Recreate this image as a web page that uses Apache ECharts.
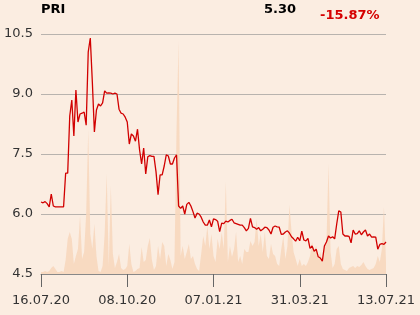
<!DOCTYPE html>
<html>
<head>
<meta charset="utf-8">
<script src="https://cdn.jsdelivr.net/npm/echarts@6/dist/echarts.min.js"></script>
<style>
html,body{margin:0;padding:0;background:#fbede1;}
#chart{width:420px;height:315px;}
</style>
</head>
<body>
<div id="chart"></div>
<script>
var symbolName = 'PRI';
var lastPrice = '5.30';
var changePct = '-15.87%';
var tickLabels = ['16.07.20','08.10.20','07.01.21','31.03.21','13.07.21'];
var yTicks = [4.5, 6.0, 7.5, 9.0, 10.5];

var price = [
6.30,6.28,6.31,6.26,6.18,6.50,6.20,6.18,6.18,6.18,
6.18,6.18,7.02,7.02,8.45,8.85,7.95,9.10,8.30,8.50,
8.52,8.55,8.22,10.05,10.40,9.30,8.05,8.60,8.75,8.70,
8.78,9.08,9.02,9.03,9.02,9.00,9.02,9.00,8.62,8.52,
8.50,8.42,8.30,7.75,8.00,7.95,7.82,8.12,7.60,7.25,
7.65,7.00,7.43,7.46,7.44,7.44,7.06,6.48,6.98,6.98,
7.20,7.48,7.45,7.25,7.25,7.40,7.48,6.20,6.14,6.20,
6.00,6.24,6.29,6.20,6.06,5.90,6.02,6.00,5.92,5.80,
5.72,5.72,5.85,5.68,5.88,5.86,5.82,5.56,5.77,5.76,
5.82,5.80,5.84,5.87,5.78,5.76,5.74,5.72,5.72,5.66,
5.58,5.64,5.89,5.68,5.66,5.62,5.66,5.58,5.62,5.67,
5.66,5.60,5.50,5.67,5.70,5.68,5.67,5.49,5.50,5.55,
5.58,5.52,5.43,5.38,5.32,5.42,5.33,5.57,5.35,5.33,
5.39,5.14,5.20,5.07,5.12,4.93,4.90,4.82,5.20,5.30,
5.45,5.40,5.43,5.38,5.75,6.08,6.05,5.50,5.45,5.45,
5.44,5.28,5.60,5.50,5.51,5.58,5.48,5.55,5.60,5.45,
5.50,5.42,5.43,5.42,5.12,5.24,5.26,5.24,5.30
];

var volume = [
2,2,3,2,3,6,8,5,2,2,
3,2,14,35,42,35,10,18,25,58,
15,22,60,144,40,25,50,18,3,2,
8,40,100,8,88,20,6,12,20,6,
4,5,8,30,10,2,3,5,6,27,
12,14,28,36,14,4,8,28,15,32,
28,8,20,14,5,12,144,233,18,28,
15,22,30,15,18,10,5,3,20,38,
28,48,25,40,18,12,35,25,42,25,
92,12,28,17,25,42,12,18,10,25,
22,22,33,28,32,55,28,40,22,42,
18,15,30,20,18,10,8,25,38,15,
28,69,42,22,15,8,15,8,10,8,
12,18,32,22,28,15,22,12,28,30,
110,22,6,10,25,28,10,5,4,3,
6,7,8,6,8,7,9,12,8,5,
4,5,6,10,18,12,25,67,12
];

var step = 42;
var cats = price.map(function(_, i){ return i; });

var chart = echarts.init(document.getElementById('chart'), null, {renderer:'canvas'});
var font = 'DejaVu Sans';
chart.setOption({
  backgroundColor: '#fbede1',
  animation: false,
  textStyle: {fontFamily: font},
  title: [
    {text: symbolName, left: 36, top: -2, textStyle: {fontFamily: font, fontSize: 13, fontWeight: 'bold', color: '#000'}},
    {text: lastPrice, left: 259, top: -2, textStyle: {fontFamily: font, fontSize: 13, fontWeight: 'bold', color: '#000'}},
    {text: changePct, left: 315, top: 4, textStyle: {fontFamily: font, fontSize: 13, fontWeight: 'bold', color: '#d50000'}}
  ],
  grid: {left: 41, right: 34, top: 34, bottom: 41, containLabel: false},
  xAxis: {
    type: 'category',
    data: cats,
    boundaryGap: false,
    axisLine: {show: true, lineStyle: {color: '#888', width: 1}},
    axisTick: {show: true, interval: step - 1, length: 13, lineStyle: {color: '#666'}},
    axisLabel: {
      interval: step - 1,
      margin: 20,
      fontSize: 13,
      fontFamily: font,
      color: '#333',
      formatter: function(v, idx){ return tickLabels[Math.round(idx / step)] || ''; }
    },
    splitLine: {show: false}
  },
  yAxis: [
    {
      type: 'value',
      min: yTicks[0],
      max: yTicks[yTicks.length - 1],
      interval: 1.5,
      axisLine: {show: false},
      axisTick: {show: false},
      axisLabel: {fontSize: 13, fontFamily: font, color: '#333', margin: 8,
        formatter: function(v){ return v.toFixed(1); }},
      splitLine: {lineStyle: {color: '#b8b3ae', width: 1}}
    },
    {
      type: 'value', min: 0, max: 240, show: false,
      splitLine: {show: false}
    }
  ],
  series: [
    {
      type: 'line',
      yAxisIndex: 1,
      data: volume,
      symbol: 'none',
      lineStyle: {width: 0},
      areaStyle: {color: '#f7d7be', opacity: 0.9},
      z: 1
    },
    {
      type: 'line',
      data: price,
      symbol: 'none',
      lineStyle: {color: '#d10000', width: 1.3},
      z: 3
    }
  ]
});
</script>
</body>
</html>
